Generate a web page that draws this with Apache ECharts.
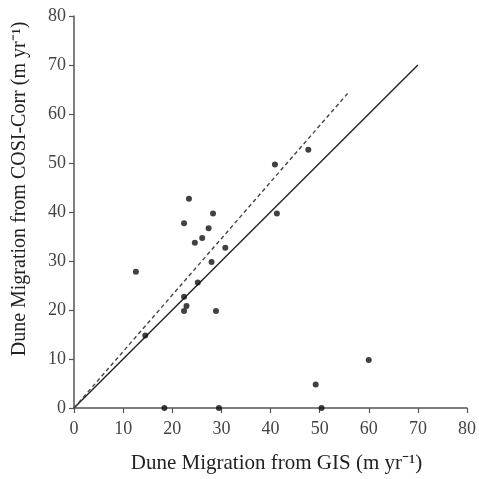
<!DOCTYPE html>
<html>
<head>
<meta charset="utf-8">
<script src="https://cdn.jsdelivr.net/npm/echarts@6/dist/echarts.min.js"></script>
<style>html,body{margin:0;padding:0;background:#fff}#c{width:479px;height:479px}</style>
</head>
<body>
<div id="c"></div>
<script>
var gisValues = [12.6, 14.5, 22.4, 23.4, 24.6, 26.1, 27.4, 28.3, 28.0, 30.8, 25.2, 22.4, 22.9, 22.4, 28.9, 40.9, 41.3, 47.7, 49.2, 60.0, 18.4, 29.5, 50.4];
var cosiValues = [27.8, 14.8, 37.7, 42.7, 33.7, 34.7, 36.7, 39.7, 29.8, 32.7, 25.6, 22.7, 20.8, 19.8, 19.8, 49.7, 39.7, 52.7, 4.8, 9.8, 0, 0, 0];
var solidLineX = [0, 70];
var solidLineY = [0, 70];
var dashedLineX = [0, 55.7];
var dashedLineY = [0, 64.2];
var tickValues = [0, 10, 20, 30, 40, 50, 60, 70, 80];
var xTitle = 'Dune Migration from GIS (m yr\u207B\u00B9)';
var yTitle = 'Dune Migration from COSI-Corr (m yr\u207B\u00B9)';

function pairs(a, b) { return a.map(function (v, i) { return [v, b[i]]; }); }

var font = 'Liberation Serif';
var axisCommon = {
  type: 'value', min: tickValues[0], max: tickValues[tickValues.length - 1], interval: 10,
  splitLine: { show: false },
  axisLine: { show: true, onZero: false, lineStyle: { color: '#555', width: 1.5 } },
  axisTick: { show: true, length: 5, lineStyle: { color: '#555', width: 1.2 } },
  nameLocation: 'middle'
};
var chart = echarts.init(document.getElementById('c'), null, { renderer: 'canvas' });
chart.setOption({
  animation: false,
  backgroundColor: '#fff',
  grid: { left: 74, right: 12, top: 16, bottom: 69, containLabel: false },
  xAxis: Object.assign({}, axisCommon, {
    name: xTitle, nameGap: 45,
    nameTextStyle: { fontFamily: font, fontSize: 21, color: '#222', padding: [0, 0, 0, 12] },
    axisLabel: { fontFamily: font, fontSize: 18, color: '#444', margin: 12 }
  }),
  yAxis: Object.assign({}, axisCommon, {
    name: yTitle, nameGap: 44,
    nameTextStyle: { fontFamily: font, fontSize: 20, color: '#222', padding: [0, 0, 0, 46] },
    axisLabel: { fontFamily: font, fontSize: 18, color: '#444', margin: 8 }
  }),
  series: [
    { type: 'line', data: pairs(solidLineX, solidLineY), symbol: 'none',
      lineStyle: { color: '#222', width: 1.4 }, z: 2 },
    { type: 'line', data: pairs(dashedLineX, dashedLineY), symbol: 'none',
      lineStyle: { color: '#444', width: 1.4, type: [4, 3] }, z: 2 },
    { type: 'scatter', data: pairs(gisValues, cosiValues), symbol: 'circle', symbolSize: 6,
      itemStyle: { color: '#111' }, z: 3 }
  ]
});
</script>
</body>
</html>
